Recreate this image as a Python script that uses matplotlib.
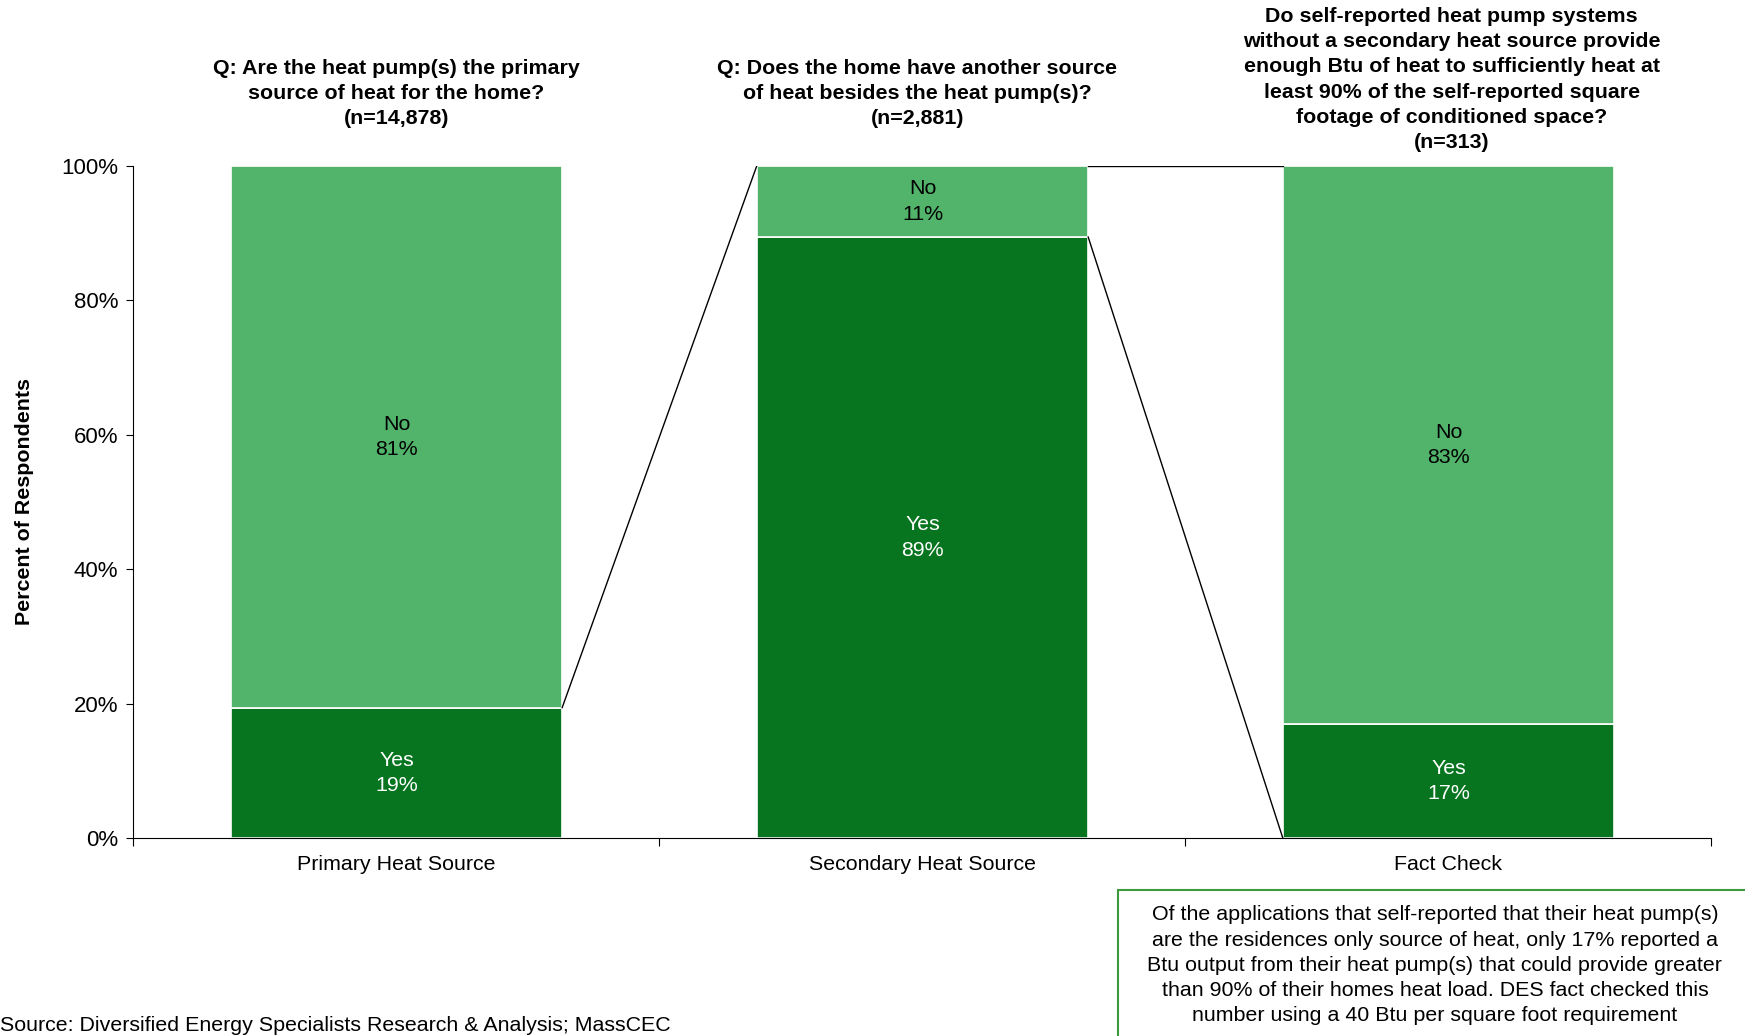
import matplotlib.pyplot as plt
import matplotlib.transforms as mtransforms
from matplotlib.patches import Rectangle

plt.rcParams['font.family'] = ['Liberation Sans', 'DejaVu Sans']

# === Data ===
categories = ['Primary Heat Source', 'Secondary Heat Source', 'Fact Check']
yes_pct = [19.4, 89.4, 16.9]
no_pct = [80.6, 10.6, 83.1]
titles = [
    'Q: Are the heat pump(s) the primary\nsource of heat for the home?\n(n=14,878)',
    'Q: Does the home have another source\nof heat besides the heat pump(s)?\n(n=2,881)',
    'Do self-reported heat pump systems\nwithout a secondary heat source provide\n'
    'enough Btu of heat to sufficiently heat at\nleast 90% of the self-reported square\n'
    'footage of conditioned space?\n(n=313)',
]
yticks = [0, 20, 40, 60, 80, 100]
note = ('Of the applications that self-reported that their heat pump(s)\n'
        'are the residences only source of heat, only 17% reported a\n'
        'Btu output from their heat pump(s) that could provide greater\n'
        'than 90% of their homes heat load. DES fact checked this\n'
        'number using a 40 Btu per square foot requirement')
source = 'Source: Diversified Energy Specialists Research & Analysis; MassCEC'

dark_green = '#07751F'
light_green = '#52B46A'
fs = 15.4
ls = 1.42

fig = plt.figure(figsize=(17.45, 10.36), dpi=100)
ax = fig.add_axes([0.0765, 0.1911, 0.9043, 0.6489])

x = list(range(len(categories)))
w = 0.63
ax.bar(x, yes_pct, width=w, color=dark_green, edgecolor='white', linewidth=1.2)
ax.bar(x, no_pct, width=w, bottom=yes_pct, color=light_green, edgecolor='white', linewidth=1.2)

# segment labels
for i in x:
    ax.text(i, yes_pct[i] / 2, f'Yes\n{yes_pct[i]:.0f}%', ha='center', va='center',
            color='white', fontsize=fs, linespacing=ls)
    ax.text(i, yes_pct[i] + no_pct[i] / 2, f'No\n{no_pct[i]:.0f}%', ha='center', va='center',
            color='black', fontsize=fs, linespacing=ls)

# connector lines (breakdown from one bar to the next)
h = w / 2
ax.plot([0 + h, 1 - h], [yes_pct[0], 100], color='black', lw=1)
ax.plot([1 + h, 2 - h], [yes_pct[1], 0], color='black', lw=1)
ax.plot([1 + h, 2 - h], [100, 100], color='black', lw=1)

ax.set_xlim(-0.5, 2.5)
ax.set_ylim(0, 100)
ax.set_yticks(yticks)
ax.set_yticklabels([f'{t}%' for t in yticks], fontsize=16)
ax.set_xticks([-0.5, 0.5, 1.5, 2.5])
ax.set_xticklabels([])
ax.set_xticks(x, minor=True)
ax.set_xticklabels(categories, minor=True, fontsize=fs)
ax.tick_params(axis='x', which='minor', length=0, pad=12)
ax.tick_params(axis='x', which='major', length=6, direction='out')
ax.tick_params(axis='y', length=5, direction='out', pad=6)
for s in ['top', 'right']:
    ax.spines[s].set_visible(False)
ax.set_ylabel('Percent of Respondents', fontsize=fs, fontweight='bold')
ax.yaxis.set_label_coords(-0.063, 0.5)

# question titles above each bar
trans = mtransforms.blended_transform_factory(ax.transData, fig.transFigure)
title_x = [0, 0.99, 2.006]
title_y = [0.9098, 0.9098, 0.9232]
for tx, ty, t in zip(title_x, title_y, titles):
    ax.text(tx, ty, t, transform=trans, ha='center', va='center', fontsize=fs,
            fontweight='bold', linespacing=ls)

# note box
fig.patches.append(Rectangle((0.6407, -0.05), 0.5, 0.1909, transform=fig.transFigure,
                             facecolor='white', edgecolor='#3C9A3C', lw=1.5))
fig.text(0.8223, 0.0682, note, ha='center', va='center', fontsize=fs, linespacing=ls)

fig.text(0.0, 0.001, source, ha='left', va='bottom', fontsize=fs)

fig.savefig('out.png', dpi=100)
